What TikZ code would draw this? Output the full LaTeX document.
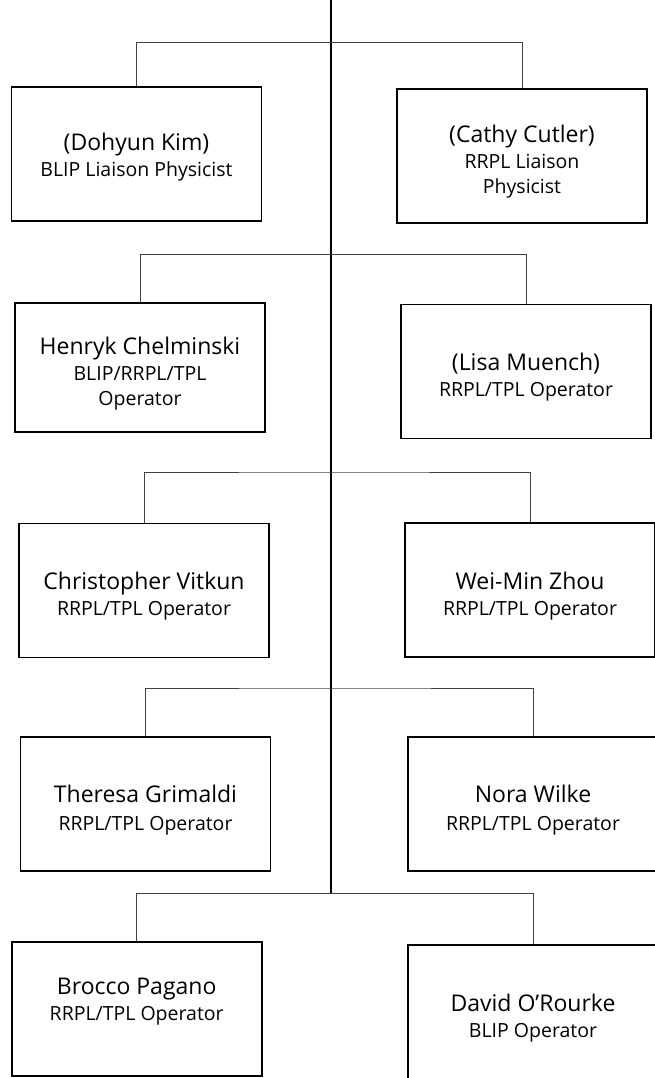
\documentclass[tikz,border=0pt]{standalone}
\usepackage{fontspec}
\setmainfont{Open Sans}
\usetikzlibrary{positioning}

% name line, with a strut that pushes the text block down a little
\newcommand{\pname}[2][29]{{\fontsize{23}{27}\selectfont\rule{0pt}{#1pt}#2}}

\begin{document}
\begin{tikzpicture}[x=1pt,y=-1pt,
  person/.style={draw=black,line width=1.6pt,minimum width=250pt,minimum height=134pt,
    inner sep=0pt,align=center,font=\fontsize{19.5}{25}\selectfont},
  link/.style={draw=black!75,line width=1pt},
  trunk/.style={draw=black,line width=1.5pt}]
\useasboundingbox (0,0) rectangle (654,1078);

% main line
\coordinate (top) at (331,0);
\coordinate (bot) at (331,893);
\draw[trunk] (top) -- (bot);

% row 1
\node[person] (kim) at (136.5,154) {\pname[23]{(Dohyun Kim)}\\[1pt]BLIP Liaison Physicist};
\node[person] (cutler) at (522,156) {\pname{(Cathy Cutler)}\\[1pt]RRPL Liaison\\Physicist};
\coordinate (b1) at (331,42.7);
\draw[link] (kim.north) |- (b1) -| (cutler.north);

% row 2
\node[person,minimum height=129pt] (chelminski) at (140,367.5) {\pname{Henryk Chelminski}\\[1pt]BLIP/RRPL/TPL\\Operator};
\node[person] (muench) at (526,371.5) {\pname{(Lisa Muench)}\\[1pt]RRPL/TPL Operator};
\coordinate (b2) at (331,254.5);
\draw[link] (chelminski.north) |- (b2) -| (muench.north);

% row 3
\node[person] (vitkun) at (144,590.5) {\pname{Christopher Vitkun}\\[1pt]RRPL/TPL Operator};
\node[person] (zhou) at (530,590) {\pname{Wei-Min Zhou}\\[1pt]RRPL/TPL Operator};
\coordinate (b3) at (331,472);
\draw[link] (vitkun.north) |- (b3) -| (zhou.north);

% row 4
\node[person] (grimaldi) at (145.5,804) {\pname{Theresa Grimaldi}\\[3pt]RRPL/TPL Operator};
\node[person] (wilke) at (533,804) {\pname{Nora Wilke}\\[3pt]RRPL/TPL Operator};
\coordinate (b4) at (331,688);
\draw[link] (grimaldi.north) |- (b4) -| (wilke.north);

% row 5
\node[person] (pagano) at (136.7,1009.2) {\pname[0]{Brocco Pagano}\\[1pt]RRPL/TPL Operator\rule[-20pt]{0pt}{0pt}};
\node[person] (orourke) at (533,1012) {\pname{David O’Rourke}\\[1pt]BLIP Operator};
\draw[link] (pagano.north) |- (bot) -| (orourke.north);
\end{tikzpicture}
\end{document}
